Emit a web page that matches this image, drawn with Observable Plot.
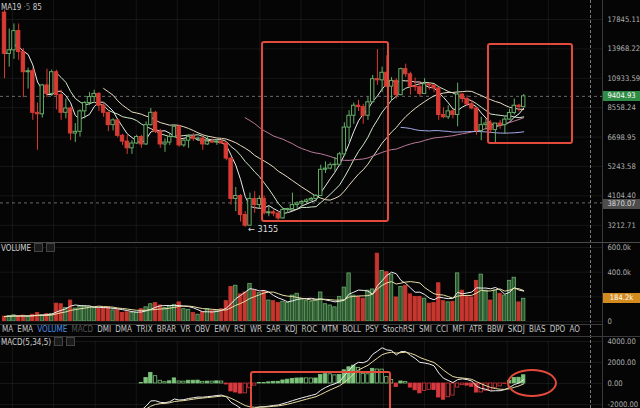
<!DOCTYPE html>
<html><head><meta charset="utf-8">
<script src="https://cdn.jsdelivr.net/npm/d3@7"></script>
<script src="https://cdn.jsdelivr.net/npm/@observablehq/plot@0.6"></script>
<style>
html,body{margin:0;padding:0;background:#050505;}
#root{position:relative;width:640px;height:408px;background:#050505;overflow:hidden;
  font-family:"DejaVu Sans Condensed","Liberation Sans",sans-serif;}
.panel{position:absolute;left:0;}
.panel svg{display:block;}
.line{position:absolute;pointer-events:none;}
.tag{position:absolute;left:603px;width:37px;height:10px;line-height:10px;font-size:7.6px;text-align:center;}
.lbl{position:absolute;left:1px;font-size:8px;color:#cfcfcf;white-space:nowrap;}
.ico{display:inline-block;width:7px;height:7px;border:1px solid #444;background:#1a1a1a;margin-left:3px;vertical-align:-1px;}
#tabs{position:absolute;left:2px;top:324px;width:578px;height:12px;display:flex;justify-content:space-between;
  font-size:8px;line-height:12px;color:#c4c4c4;}
.box{position:absolute;border:2px solid #e24a3b;border-radius:3px;box-sizing:border-box;}
</style></head>
<body><div id="root"></div>
<script>
// ---------- data (weekly candles) ----------
const opens = [18900,13400,13800,16200,13600,11500,11600,8200,8100,10300,
 9600,11500,9500,8200,8500,6900,7000,8300,8900,9350,
 9600,8700,8200,7400,7700,6770,6450,6100,6350,6700,
 6300,7400,8200,7000,6300,6400,6700,7300,6250,6500,
 6700,6600,6620,6300,6450,6400,6450,6350,5600,4000,
 4100,3500,3200,4000,3800,4000,3550,3580,3540,3400,
 3650,3680,3800,3850,3900,3950,4000,4100,5100,5150,
 5300,5320,5800,7250,8000,8700,8600,8000,8950,10850,
 10750,11450,10200,10700,9500,11800,11300,10200,10150,9600,
 10400,10300,10050,8050,7900,8300,8050,9550,9200,8800,
 8500,7050,7400,7500,7100,7500,7400,7750,8190,8700,
 8600];
const highs = [19300,16500,17200,17200,14000,11900,11900,8900,10400,11800,
 11700,11700,9900,9200,8600,7500,8400,9000,9700,9900,
 9700,8900,8250,7800,7750,6850,6800,6500,6800,6800,
 7600,8500,8300,7150,6600,6900,7400,7400,6600,6800,
 6900,6700,6700,6750,6600,6550,6600,6450,5650,4400,
 4150,3600,4200,4250,4100,4100,3750,3650,3600,3700,
 3700,4200,3900,3950,4000,4050,4150,5300,5450,5400,
 5650,5900,7550,8350,8900,9100,8800,9350,11200,13880,
 12000,13200,11000,10900,11900,12300,11500,10950,10650,10900,
 10450,10350,10100,8550,8700,8400,10500,9600,9450,9100,
 8500,7900,7750,7700,7500,7700,7900,8450,9200,8800,
 9550];
const lows = [10900,12000,12800,12700,9300,10000,7700,6000,7850,9300,
 9400,8400,7700,7800,6500,6400,6700,7800,8700,9000,
 8300,7900,7000,7050,6650,6250,5800,5800,6300,6100,
 6250,7350,6900,6100,5900,6250,6650,6150,6150,6100,
 6450,6450,6000,6250,6350,6250,6300,5500,3800,3600,
 3300,3155,3200,3550,3700,3500,3450,3450,3350,3380,
 3550,3650,3700,3750,3800,3900,3900,4100,4950,5100,
 5000,5250,5700,6400,7450,8300,7450,7700,8950,10300,
 9700,10100,9050,9200,9450,11000,9500,9800,9350,9600,
 9900,9700,7700,7800,7750,7800,7300,8900,8650,8400,
 6800,6500,7100,6900,6400,7150,6850,7700,8050,8250,
 8550];
const closes = [13400,13800,16200,13600,11500,11600,8200,8100,10300,9600,
 11500,9500,8200,8500,6900,7000,8300,8900,9350,9600,
 8700,8200,7400,7700,6770,6450,6100,6350,6700,6300,
 7400,8200,7000,6300,6400,6700,7300,6250,6500,6700,
 6600,6620,6300,6450,6400,6450,6350,5600,4000,4100,
 3500,3200,4000,3800,4000,3550,3580,3540,3400,3650,
 3680,3800,3850,3900,3950,4000,4100,5100,5150,5300,
 5320,5800,7250,8000,8700,8600,8000,8950,10850,10750,
 11450,10200,10700,9500,11800,11300,10200,10150,9600,10400,
 10300,10050,8050,7900,8300,8050,9550,9200,8800,8500,
 7050,7400,7500,7100,7500,7400,7750,8190,8700,8600,
 9404.93];
// volume in thousands
const volumes = [40,45,50,42,48,40,55,70,50,60,
 60,145,140,110,170,105,120,125,115,110,
 105,110,115,90,95,70,75,70,70,100,
 115,140,150,130,110,120,135,155,100,95,
 70,55,75,100,85,90,100,165,280,290,
 220,235,305,250,230,240,170,165,150,160,
 150,210,225,180,165,160,175,235,140,130,
 115,200,275,390,210,200,185,250,260,550,
 410,400,380,195,280,290,220,200,200,185,
 145,150,310,165,155,160,390,250,200,195,
 330,380,250,170,250,225,210,330,355,155,
 184.2];

// ticks / settings
const priceTicks = [17845.11, 13968.22, 10933.59, 8558.24, 6698.95, 5243.58, 4104.40, 3212.71];
const volTicks = [0, 200, 400, 600];
const volTickShown = [0, 400, 600];
const macdTicks = [-2000, 0, 2000, 4000];
const timeGrid = [1.7, 10.4, 19.2, 27.9, 36.6, 45.4, 54.1, 62.8, 71.5, 80.3, 89.0, 97.7, 106.5, 115.2];
const crossPrice = 3870.07;
const maPeriods = [5, 12, 22, 52, 85];
const maColors = ["#ececec", "#cfe9c9", "#e8dcc2", "#b9789a", "#a4a9e8"];
const macdParams = [5, 34, 5];
const macdFrom = 29;
const tabs = ["MA","EMA","VOLUME","MACD","DMI","DMA","TRIX","BRAR","VR","OBV","EMV","RSI","WR","SAR","KDJ","ROC","MTM","BOLL","PSY","StochRSI","SMI","CCI","MFI","ATR","BBW","SKDJ","BIAS","DPO","AO"];

// ---------- build ----------
const RED = "#d83b34", GREEN = "#66ad68";
const candles = closes.map((c, i) => ({i, open: opens[i], high: highs[i], low: lows[i], close: c, vol: volumes[i], up: c >= opens[i]}));

function ema(vals, n) { const a = 2 / (n + 1); const out = []; vals.forEach((v, i) => out.push(i ? out[i - 1] + a * (v - out[i - 1]) : v)); return out; }
const fast = ema(closes, macdParams[0]), slow = ema(closes, macdParams[1]);
const dif = closes.map((_, i) => fast[i] - slow[i]);
const dea = ema(dif, macdParams[2]);
const macd = dif.map((d, i) => ({i, dif: d, dea: dea[i], bar: 2 * (d - dea[i])}));
macd.forEach((m, i) => { m.filled = i === 0 ? true : Math.abs(m.bar) >= Math.abs(macd[i - 1].bar) || Math.sign(m.bar) !== Math.sign(macd[i - 1].bar); });
const macdShown = macd.filter(m => m.i >= macdFrom);

const xDomain = [-0.847, 126.69];
const common = {width: 640, marginLeft: 0, marginRight: 38,
  style: {background: "transparent", color: "#b0b0b0", fontSize: "7.6px", fontFamily: '"DejaVu Sans Condensed","Liberation Sans",sans-serif'}};
const xOpt = {domain: xDomain, axis: null};
const half = 0.36;
const grid = (ticks) => [
  Plot.ruleY(ticks, {stroke: "#ffffff", strokeOpacity: 0.07}),
  Plot.ruleX(timeGrid, {stroke: "#ffffff", strokeOpacity: 0.07})
];

const root = document.getElementById("root");
function place(el, top) { const d = document.createElement("div"); d.className = "panel"; d.style.top = top + "px"; d.appendChild(el); root.appendChild(d); }

// main price panel
const lowest = candles.reduce((a, b) => b.low < a.low ? b : a);
const main = Plot.plot({...common, height: 242, marginTop: 0, marginBottom: 0,
  x: xOpt,
  y: {type: "log", domain: [2782.7, 20907], axis: "right", ticks: priceTicks, tickFormat: d => d.toFixed(2), tickSize: 0, tickPadding: 5, label: null},
  marks: [
    ...grid(priceTicks),
    Plot.ruleY([closes[closes.length - 1]], {stroke: "#bbbbbb", strokeOpacity: 0.55, strokeDasharray: "3,3"}),
    Plot.ruleY([crossPrice], {stroke: "#bbbbbb", strokeOpacity: 0.55, strokeDasharray: "3,3"}),
    ...maPeriods.map((p, j) => Plot.lineY(candles, Plot.windowY({k: p, anchor: "end", strict: j > 0}, {x: "i", y: "close", stroke: maColors[j], strokeWidth: 1, clip: true}))),
    Plot.ruleX(candles, {x: "i", y1: "low", y2: "high", stroke: d => d.up ? GREEN : RED, strokeWidth: 1, clip: true}),
    Plot.rect(candles, {x1: d => d.i - half, x2: d => d.i + half, y1: "open", y2: "close", fill: d => d.up ? "#050505" : RED, stroke: d => d.up ? GREEN : RED, strokeWidth: 1, clip: true}),
    Plot.text([lowest], {x: "i", y: "low", text: d => "← " + Math.round(d.low), dx: 3, dy: 2, textAnchor: "start", fill: "#dddddd", fontSize: 9})
  ]});
place(main, 0);

// volume panel
const vol = Plot.plot({...common, height: 85, marginTop: 5, marginBottom: 6,
  x: xOpt,
  y: {domain: [0, 600], axis: "right", ticks: volTickShown, tickFormat: d => d === 0 ? "0" : d.toFixed(1) + "k", tickSize: 0, tickPadding: 5, label: null},
  marks: [
    ...grid(volTicks),
    Plot.rectY(candles, {x1: d => d.i - half, x2: d => d.i + half, y: "vol", fill: d => d.up ? "#2c5a30" : "#c8372f", stroke: d => d.up ? "#6aaa6b" : "#c8372f", strokeWidth: 0.8, clip: true}),
    Plot.lineY(candles, Plot.windowY({k: 5, anchor: "end"}, {x: "i", y: "vol", stroke: "#eeeeee", strokeWidth: 1})),
    Plot.lineY(candles, Plot.windowY({k: 10, anchor: "end"}, {x: "i", y: "vol", stroke: "#e6dfa6", strokeWidth: 1}))
  ]});
place(vol, 242);

// MACD panel
const mp = Plot.plot({...common, height: 72, marginTop: 5, marginBottom: 0,
  x: xOpt,
  y: {domain: [-2381, 4000], axis: "right", ticks: macdTicks, tickFormat: d => d.toFixed(2), tickSize: 0, tickPadding: 5, label: null},
  marks: [
    ...grid(macdTicks),
    Plot.rectY(macdShown, {x1: d => d.i - half, x2: d => d.i + half, y: "bar",
      fill: d => d.filled ? (d.bar >= 0 ? "#7cc37c" : "#d8393f") : "#050505",
      stroke: d => d.bar >= 0 ? "#7cc37c" : "#d8393f", strokeWidth: 0.8, clip: true}),
    Plot.lineY(macdShown, {x: "i", y: "dif", stroke: "#eeeeee", strokeWidth: 1, clip: true}),
    Plot.lineY(macdShown, {x: "i", y: "dea", stroke: "#e8dca2", strokeWidth: 1, clip: true})
  ]});
place(mp, 336);

// ---------- overlays ----------
function line(css) { const d = document.createElement("div"); d.className = "line"; Object.assign(d.style, css); root.appendChild(d); }
line({left: "602px", top: "0px", width: "0px", height: "408px", borderLeft: "1px solid #3a3a3a"});
line({left: "590px", top: "0px", width: "0px", height: "408px", borderLeft: "1px dashed #7a7a7a"});
line({left: "0px", top: "242px", width: "640px", height: "0px", borderTop: "1px solid #4a4a4a"});
line({left: "0px", top: "324px", width: "602px", height: "0px", borderTop: "1px solid #3a3a3a"});
line({left: "0px", top: "336px", width: "640px", height: "0px", borderTop: "1px solid #3a3a3a"});

function tag(text, top, bg, fg) { const d = document.createElement("div"); d.className = "tag"; d.textContent = text; d.style.top = top + "px"; d.style.background = bg; d.style.color = fg; root.appendChild(d); }
const lastClose = closes[closes.length - 1];
tag(lastClose.toFixed(2), main.scale("y").apply(lastClose) - 5, "#2f8c45", "#ffffff");
tag(crossPrice.toFixed(2), main.scale("y").apply(crossPrice) - 3, "#4d4d4d", "#dddddd");
const lastVol = volumes[volumes.length - 1];
tag(lastVol.toFixed(1) + "k", 242 + vol.scale("y").apply(lastVol) - 5, "#d38b1e", "#ffffff");

function label(html, top) { const d = document.createElement("div"); d.className = "lbl"; d.style.top = top + "px"; d.innerHTML = html; root.appendChild(d); }
label("MA19 <span style='color:#777'>·5</span> 85", 3);
label("VOLUME<span class='ico'></span><span class='ico'></span>", 243);
label("MACD(" + macdParams.join(",") + ")<span class='ico'></span><span class='ico'></span>", 337);

const tb = document.createElement("div"); tb.id = "tabs";
tabs.forEach(t => { const s = document.createElement("span"); s.textContent = t;
  if (t === "VOLUME") s.style.color = "#4c8ee6"; if (t === "MACD") s.style.color = "#555555"; tb.appendChild(s); });
root.appendChild(tb);

function box(l, t, w, h, round) { const d = document.createElement("div"); d.className = "box";
  Object.assign(d.style, {left: l + "px", top: t + "px", width: w + "px", height: h + "px"}); if (round) d.style.borderRadius = "50%"; root.appendChild(d); }
box(261, 41, 128, 181);
box(487, 43, 86, 101);
box(250, 371, 141, 45);
box(507, 369, 50, 28, true);
</script>
</body></html>
